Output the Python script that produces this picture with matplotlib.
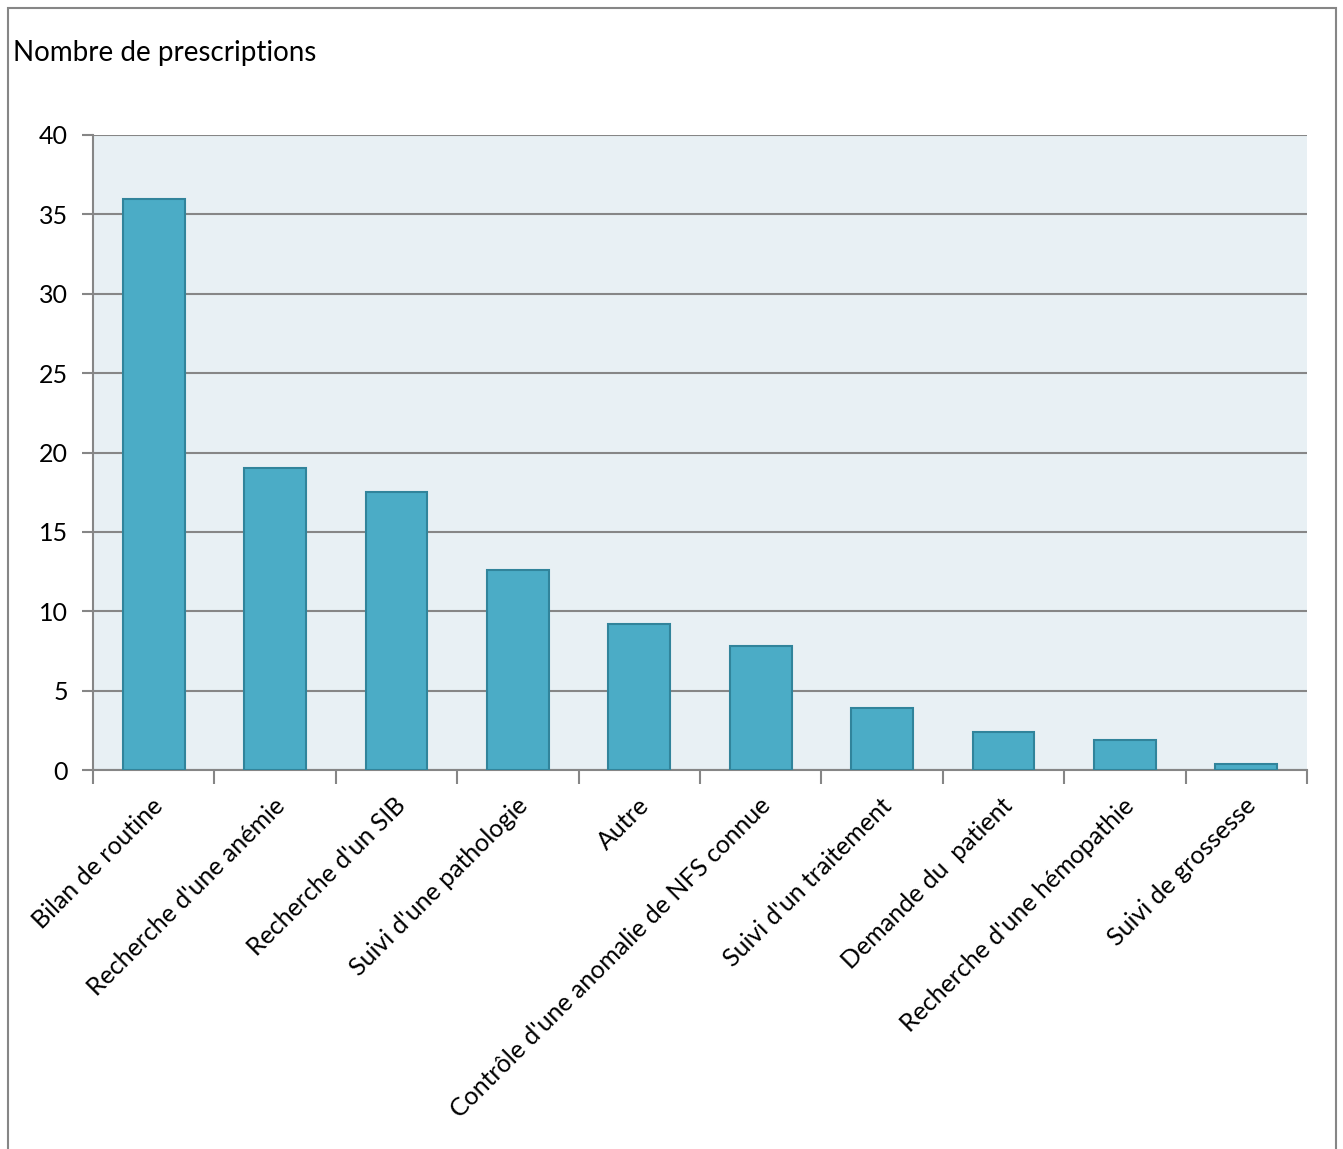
import matplotlib
matplotlib.use("Agg")
import matplotlib.pyplot as plt
from matplotlib.patches import Rectangle

categories = ["Bilan de routine", "Recherche d'une anémie", "Recherche d'un SIB",
              "Suivi d'une pathologie", "Autre", "Contrôle d'une anomalie de NFS connue",
              "Suivi d'un traitement", "Demande du  patient", "Recherche d'une hémopathie",
              "Suivi de grossesse"]
values = [36.0, 19.0, 17.5, 12.6, 9.2, 7.8, 3.9, 2.4, 1.9, 0.4]
yticks = [0, 5, 10, 15, 20, 25, 30, 35, 40]
ylabel = "Nombre de prescriptions"

plt.rcParams['font.family'] = ['Lato', 'DejaVu Sans']

W, H = 1343, 1149
fig = plt.figure(figsize=(W/100, H/100), dpi=100)
ax = fig.add_axes([93/W, 1-770/H, (1307-93)/W, (770-135)/H])

grey = '#868686'
ax.set_facecolor('#E8F0F4')
x = list(range(len(categories)))
ax.bar(x, values, width=0.51, color='#4BACC6', edgecolor='#31849B', linewidth=1.5, zorder=3)
ax.set_xlim(-0.5, len(categories)-0.5)
ax.set_ylim(0, 40)
ax.set_yticks(yticks)
ax.set_yticklabels([str(v) for v in yticks], fontsize=18)
ax.yaxis.grid(True, color=grey, linewidth=1.5, zorder=1)
ax.set_axisbelow(True)
ax.tick_params(axis='y', length=8, width=1.5, color=grey, pad=10)
ax.set_xticks([i - 0.5 for i in range(len(categories)+1)], minor=False)
ax.set_xticklabels([])
ax.tick_params(axis='x', length=10, width=1.5, color=grey)
for i, c in enumerate(categories):
    ax.text(i - 0.02, -1.5, c, rotation=45, ha='right', va='top', rotation_mode='anchor',
            fontsize=18, transform=ax.transData)
for s in ['top', 'right']:
    ax.spines[s].set_visible(False)
for s in ['left', 'bottom']:
    ax.spines[s].set_color(grey)
    ax.spines[s].set_linewidth(1.5)

fig.text(13/W, 1-53/H, ylabel, fontsize=20, ha='left', va='center')

fig.patches.append(Rectangle((8/W, -0.01), (1336-8)/W, 1-8/H+0.01, transform=fig.transFigure,
                             fill=False, edgecolor=grey, linewidth=1.5))

fig.savefig("out.png", dpi=100)
